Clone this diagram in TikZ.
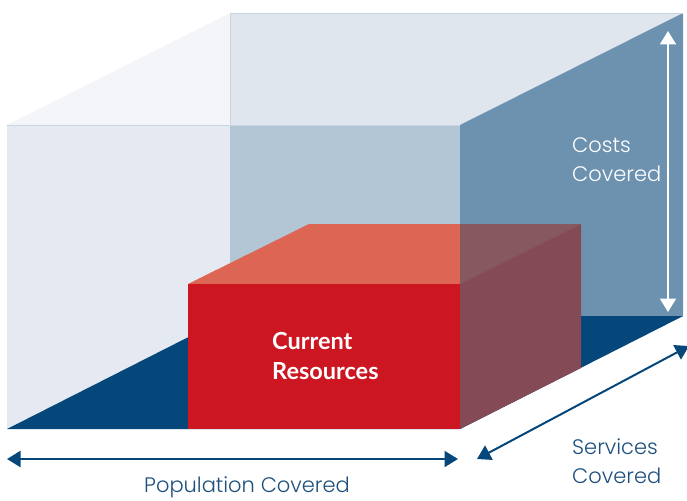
\documentclass[tikz,border=0pt]{standalone}
\usepackage{fontspec}
\usetikzlibrary{arrows.meta}
\newfontfamily\lightf{Poppins Light}
\newfontfamily\boldf{Lato Bold}
\definecolor{navy}{HTML}{05477A}
\definecolor{txtnavy}{HTML}{1D4F7C}
\definecolor{topL}{HTML}{F4F5F8}
\definecolor{topR}{HTML}{E0E6EE}
\definecolor{frontL}{HTML}{E5EAF2}
\definecolor{backM}{HTML}{B3C6D6}
\definecolor{sideR}{HTML}{6D92B0}
\definecolor{redF}{HTML}{CC1622}
\definecolor{redT}{HTML}{DD6553}
\definecolor{redTd}{HTML}{85595F}
\definecolor{redS}{HTML}{844A56}
\definecolor{edgec}{HTML}{C9D5E1}
\tikzset{
  dimarrow/.style={line width=2pt, {Triangle[length=13.5pt,width=16pt]}-{Triangle[length=13.5pt,width=16pt]}},
  lbl/.style={font=\lightf\fontsize{21}{29}\selectfont, inner sep=0pt, align=left},
  redlbl/.style={font=\boldf\fontsize{23.5}{30}\selectfont, inner sep=0pt, align=left, text=white}
}
\begin{document}
\begin{tikzpicture}[x=1pt,y=-1pt]
\useasboundingbox (0,0) rectangle (687,500);
% big box corners
\coordinate (FTL) at (7,125);
\coordinate (FTR) at (460,125);
\coordinate (FBL) at (7,429);
\coordinate (FBR) at (460,429);
\coordinate (BTL) at (230,13);
\coordinate (BTR) at (683,13);
\coordinate (BBL) at (230,316);
\coordinate (BBR) at (683,316);
% faces
\fill[topL] (FTL) -- (BTL) -- (230,125) -- cycle;
\fill[topR] (BTL) -- (BTR) -- (FTR) -- (230,125) -- cycle;
\fill[frontL] (FTL) rectangle (230,429);
\fill[backM] (230,125) rectangle (460,316);
\fill[sideR] (FTR) -- (BTR) -- (BBR) -- (FBR) -- cycle;
\fill[navy] (FBL) -- (FBR) -- (BBR) -- (BBL) -- cycle;
% faint edges
\draw[edgec, line width=0.8pt] (FTL) -- (FTR);
\draw[edgec, line width=0.8pt] (BTL) -- (BTR);
\draw[edgec, line width=0.6pt] (BTL) -- (230,125);
% red box
\coordinate (rFTL) at (188,284);
\coordinate (rFTR) at (460,284);
\coordinate (rFBR) at (460,429);
\coordinate (rBTL) at (309,224);
\coordinate (rBTR) at (581,224);
\coordinate (rBBR) at (581,368);
\fill[redT] (rFTL) -- (rFTR) -- (rBTR) -- (rBTL) -- cycle;
\fill[redTd] (460,224) -- (rBTR) -- (rFTR) -- cycle;
\fill[redS] (rFTR) -- (rBTR) -- (rBBR) -- (rFBR) -- cycle;
\fill[redF] (rFTL) rectangle (rFBR);
% labels
\node[redlbl, anchor=north west] (cur) at (272,332) {Current\\Resources};
\node[lbl, text=white, anchor=north west] (costs) at (572,137) {Costs\\Covered};
\node[lbl, text=txtnavy, anchor=north west] (serv) at (572,439) {Services\\Covered};
\node[lbl, text=txtnavy, anchor=north] (pop) at (247,477) {Population Covered};
% arrow ends
\coordinate (costTop) at (668,31);
\coordinate (costBot) at (668,312);
\coordinate (popL) at (7,459);
\coordinate (popR) at (458,459);
\coordinate (servL) at (477,459);
\coordinate (servR) at (689,346);
\draw[dimarrow, white] (costBot) -- (costTop);
\draw[dimarrow, navy] (popL) -- (popR);
\draw[dimarrow, navy] (servL) -- (servR);
\end{tikzpicture}
\end{document}
